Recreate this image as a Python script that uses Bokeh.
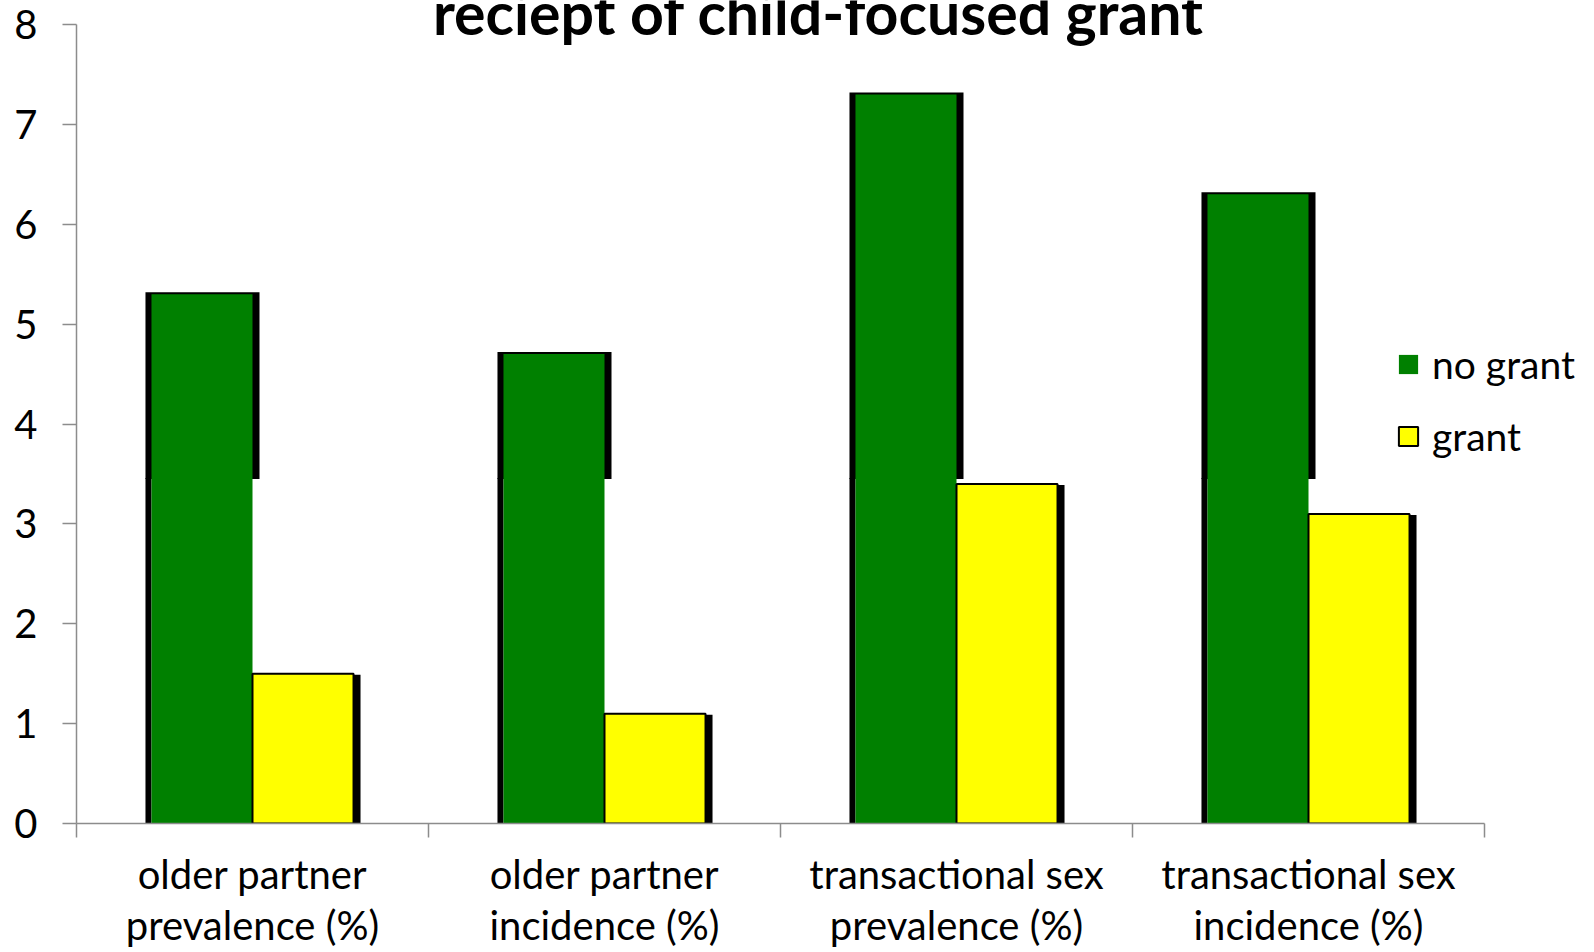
from bokeh.plotting import figure
from bokeh.models import (Range1d, FixedTicker, Legend, LegendItem, Label)
from bokeh.embed import file_html
from bokeh.resources import INLINE

# ---- data ----
categories = ["older partner\nprevalence (%)", "older partner\nincidence (%)",
              "transactional sex\nprevalence (%)", "transactional sex\nincidence (%)"]
no_grant = [5.3, 4.7, 7.3, 6.3]
grant = [1.5, 1.1, 3.4, 3.1]
y_ticks = [0, 1, 2, 3, 4, 5, 6, 7, 8]
series_names = ["no grant", "grant"]
title_text = "reciept of child-focused grant"

# ---- style constants ----
FONT = "Lato"
GREEN = "#008000"
YELLOW = "#FFFF00"
AXIS_GRAY = "#8c8c8c"
W, H = 1594, 952
B_LEFT, B_BOTTOM = 76, 129
n = len(categories)
Y_MAX = 8
PX_X = n / 1408.0           # one pixel in x data units (4 categories over 1408 px)
PX_Y = Y_MAX / 799.0        # one pixel in y data units (0..8 over 799 px)
BAR_W = 0.287
SHADOW_CUT = 3.45

centers = [i + 0.5 for i in range(n)]
x_end = (W - B_LEFT) * PX_X
y_end = (H - B_BOTTOM) * PX_Y

p = figure(width=W, height=H, x_range=Range1d(0, x_end), y_range=Range1d(0, y_end),
           output_backend="svg", toolbar_location=None,
           min_border_left=B_LEFT, min_border_top=0, min_border_right=0,
           min_border_bottom=B_BOTTOM)
p.outline_line_color = None
p.xgrid.visible = False
p.ygrid.visible = False
p.background_fill_color = "white"
p.border_fill_color = "white"

# shadows for green bars
p.quad(left=[c - BAR_W - 6 * PX_X for c in centers], right=[c + 7 * PX_X for c in centers],
       top=[v + 2 * PX_Y for v in no_grant], bottom=[SHADOW_CUT] * n,
       fill_color="black", line_color=None)
p.quad(left=[c - BAR_W - 6 * PX_X for c in centers], right=[c - BAR_W for c in centers],
       top=[SHADOW_CUT + PX_Y] * n, bottom=[-2 * PX_Y] * n,
       fill_color="black", line_color=None)
green_r = p.quad(left=[c - BAR_W for c in centers], right=centers,
                 top=no_grant, bottom=[0] * n, fill_color=GREEN, line_color=None)
# shadows for yellow bars
p.quad(left=centers, right=[c + BAR_W + 7 * PX_X for c in centers],
       top=[v - 1 * PX_Y for v in grant], bottom=[-2 * PX_Y] * n,
       fill_color="black", line_color=None)
yellow_r = p.quad(left=centers, right=[c + BAR_W for c in centers],
                  top=grant, bottom=[0] * n, fill_color=YELLOW,
                  line_color="black", line_width=2)

# y axis
ya = p.yaxis[0]
ya.ticker = FixedTicker(ticks=y_ticks, minor_ticks=[])
ya.bounds = (0, Y_MAX)
ya.axis_line_color = AXIS_GRAY
ya.axis_line_width = 1.5
ya.major_tick_line_color = AXIS_GRAY
ya.major_tick_line_width = 1.5
ya.major_tick_out = 14
ya.major_tick_in = 0
ya.minor_tick_line_color = None
ya.major_label_standoff = 25
ya.major_label_text_font = FONT
ya.major_label_text_font_size = "40px"
ya.major_label_text_color = "black"

# x axis: labels at category centres, tick marks at category boundaries
xa = p.xaxis[0]
xa.ticker = FixedTicker(ticks=centers, minor_ticks=list(range(n + 1)))
xa.bounds = (0, n)
xa.axis_line_color = AXIS_GRAY
xa.axis_line_width = 1.5
xa.major_tick_line_color = None
xa.major_tick_out = 0
xa.major_tick_in = 0
xa.minor_tick_line_color = AXIS_GRAY
xa.minor_tick_line_width = 1.5
xa.minor_tick_out = 14
xa.minor_tick_in = 0
xa.major_label_overrides = {c: lab for c, lab in zip(centers, categories)}
xa.major_label_standoff = 12
xa.major_label_text_font = FONT
xa.major_label_text_font_size = "40px"
xa.major_label_text_line_height = 1.08
xa.major_label_text_color = "black"

# title
p.add_layout(Label(x=2.108, y=Y_MAX + 12 * PX_Y, text=title_text, text_align="center",
                   text_baseline="alphabetic", text_font=FONT, text_font_style="bold",
                   text_font_size="59px", text_color="black"))

legend = Legend(items=[LegendItem(label=series_names[0], renderers=[green_r]),
                       LegendItem(label=series_names[1], renderers=[yellow_r])],
                location=(1320, 362), orientation="vertical",
                glyph_width=24, glyph_height=24, label_height=50, spacing=22,
                label_standoff=12, padding=0, margin=0,
                border_line_color=None, background_fill_alpha=0,
                label_text_font=FONT, label_text_font_size="39px",
                label_text_color="black")
p.add_layout(legend, "center")

open("out.html", "w").write(file_html(p, INLINE))
